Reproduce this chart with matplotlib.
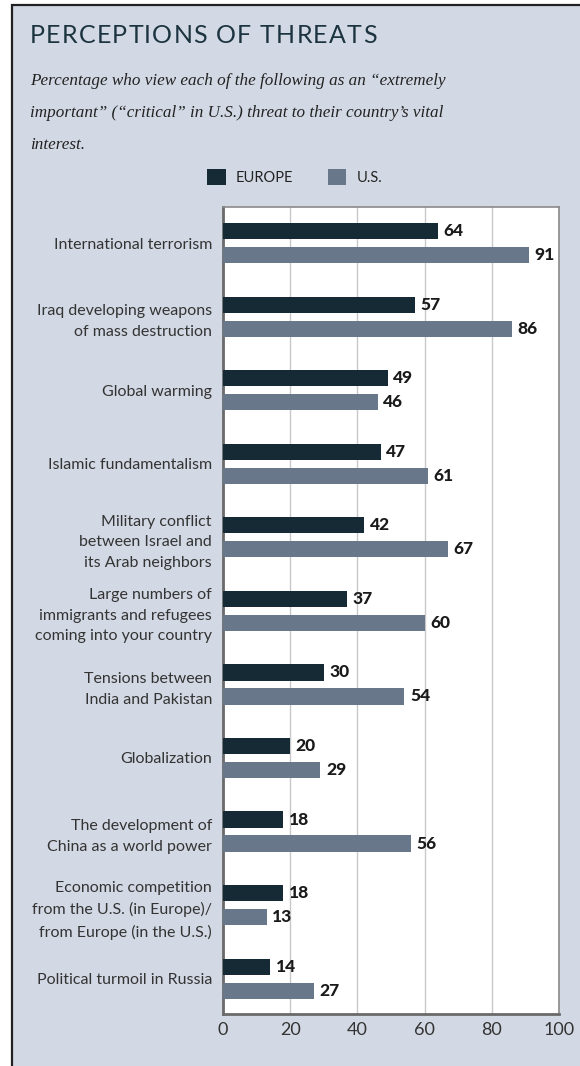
import matplotlib
matplotlib.use("Agg")
import matplotlib.pyplot as plt
from matplotlib.patches import Rectangle, Patch
import numpy as np

categories = [
    "International terrorism",
    "Iraq developing weapons\nof mass destruction",
    "Global warming",
    "Islamic fundamentalism",
    "Military conflict\nbetween Israel and\nits Arab neighbors",
    "Large numbers of\nimmigrants and refugees\ncoming into your country",
    "Tensions between\nIndia and Pakistan",
    "Globalization",
    "The development of\nChina as a world power",
    "Economic competition\nfrom the U.S. (in Europe)/\nfrom Europe (in the U.S.)",
    "Political turmoil in Russia",
]
europe = [64, 57, 49, 47, 42, 37, 30, 20, 18, 18, 14]
us = [91, 86, 46, 61, 67, 60, 54, 29, 56, 13, 27]
xticks = [0, 20, 40, 60, 80, 100]

EU_COL = "#152a35"
US_COL = "#687789"
BG = "#d3d9e4"
SANS = "Lato"

fig = plt.figure(figsize=(5.8, 10.66), dpi=100)
fig.patch.set_facecolor("white")

# panel background with border on top and left
fig.patches.append(Rectangle((12 / 580, -0.01), 1.0, 1 - 5 / 1066 + 0.01,
                             transform=fig.transFigure, facecolor=BG,
                             edgecolor="#222222", linewidth=1.6, zorder=-10))

# letter-spaced title, one character at a time
renderer = fig.canvas.get_renderer()
title = "PERCEPTIONS OF THREATS"
tx = 30.0
for ch in title:
    t = fig.text(tx / 580, 1 - 43 / 1066, ch, family=SANS, fontsize=18,
                 color="#1c3440", va="baseline")
    if ch == " ":
        w = 6.5
    else:
        w = t.get_window_extent(renderer).width
    tx += w + 1.2

sub = [
    "Percentage who view each of the following as an \u201cextremely",
    "important\u201d (\u201ccritical\u201d in U.S.) threat to their country\u2019s vital",
    "interest.",
]
for i, line in enumerate(sub):
    fig.text(30 / 580, 1 - (85 + 32 * i) / 1066, line, family="Liberation Serif",
             style="italic", fontsize=12.3, color="#222222", va="baseline")

ax = fig.add_axes([223 / 580, 1 - 1014 / 1066, 336 / 580, 807 / 1066])
ax.set_facecolor("white")

y = np.arange(len(categories))
off = 0.163
h = 0.22
b1 = ax.barh(y - off, europe, height=h, color=EU_COL, zorder=3)
b2 = ax.barh(y + off, us, height=h, color=US_COL, zorder=3)
for bars, vals in ((b1, europe), (b2, us)):
    ax.bar_label(bars, labels=[str(v) for v in vals], padding=4,
                 family=SANS, fontweight="black", fontsize=12.5, color="#1a1a1a")

ax.set_xlim(0, 100)
ax.set_ylim(len(categories) - 0.52, -0.49)
ax.set_xticks(xticks)
ax.set_xticklabels([str(t) for t in xticks], family=SANS, fontsize=13,
                   color="#333333")
ax.set_yticks(y)
ax.set_yticklabels(categories, family=SANS, fontsize=11.5, color="#333333",
                   linespacing=1.6)
ax.tick_params(axis="both", length=0)
ax.tick_params(axis="y", pad=8)
ax.tick_params(axis="x", pad=6)
ax.grid(axis="x", color="#c8c8c8", linewidth=1.0, zorder=0)
for side in ("left", "bottom"):
    ax.spines[side].set_color("#6a6a6a")
    ax.spines[side].set_linewidth(2.0)
for side in ("top", "right"):
    ax.spines[side].set_color("#8a8a8a")
    ax.spines[side].set_linewidth(1.2)

handles = [Patch(facecolor=EU_COL, label="EUROPE"),
           Patch(facecolor=US_COL, label="U.S.")]
fig.legend(handles=handles, loc="center left",
           bbox_to_anchor=(200 / 580, 1 - 177 / 1066), ncol=2, frameon=False,
           borderpad=0, handlelength=1.25, handleheight=1.25,
           handletextpad=0.7, columnspacing=2.4,
           prop={"family": SANS, "size": 10.5})
for t in fig.legends[0].get_texts():
    t.set_color("#222222")

fig.savefig("out.png", dpi=100)
